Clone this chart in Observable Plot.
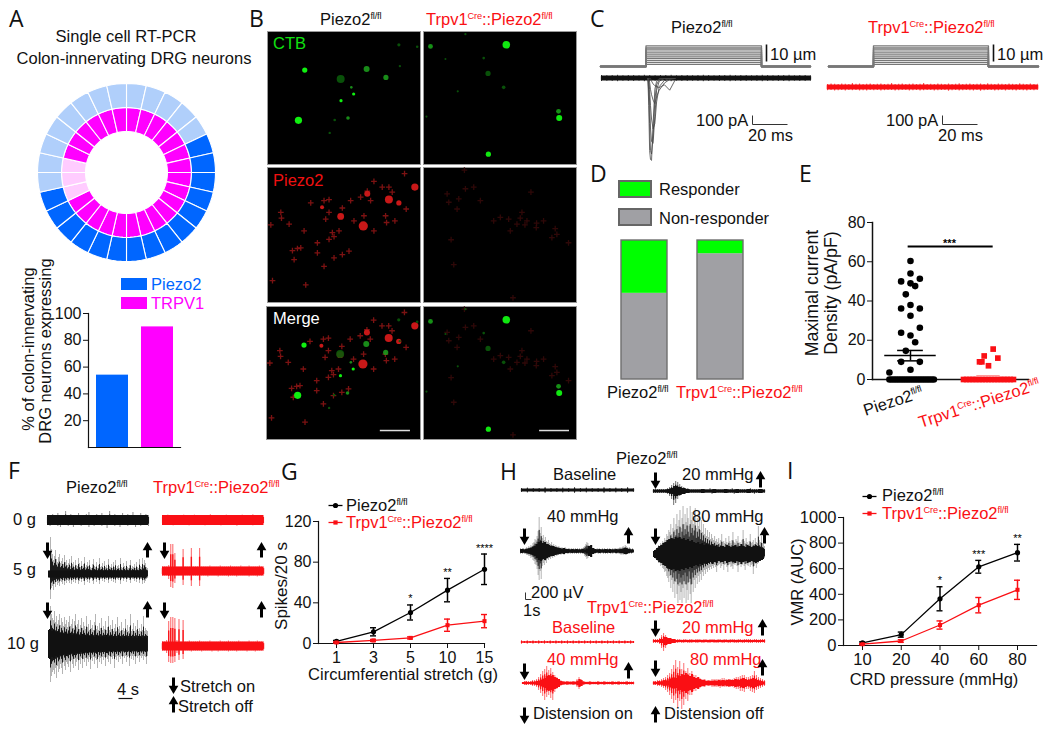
<!DOCTYPE html>
<html><head><meta charset="utf-8">
<script src="https://cdn.jsdelivr.net/npm/d3@7"></script>
<script src="https://cdn.jsdelivr.net/npm/@observablehq/plot@0.6"></script>
<style>
html,body{margin:0;padding:0;background:#fff}
#page{position:relative;width:1050px;height:729px;overflow:hidden;font-family:"Liberation Sans",Arial,sans-serif}
#page svg{position:absolute;overflow:visible}
.t{position:absolute;white-space:nowrap;line-height:1;color:#111}
.t sup{font-size:.56em;vertical-align:baseline;position:relative;top:-.62em;line-height:0;letter-spacing:-.02em}
</style></head><body><div id="page"></div>
<script>
// ---------- Panel A ----------
const outerRing=[0,0,0,0,0,1,1,1,1,1,1,1,1,1,1,1,1,1,1,1,0,0,0,0,0,0,0,0];
const innerRing=[1,1,1,1,1,1,1,1,1,1,1,1,1,1,1,1,1,1,1,0,0,0,1,1,1,1,1,1];
const aGenes=["Piezo2","TRPV1"];
const aPercent=[54,90];
// ---------- Panel B (positions in the micrograph) ----------
const ctbLeftBright=[[112,116,2.6],[93,267,3.6],[259,188,1.6],[221,208,1.6]];
const ctbLeftMid=[[298,113,3],[356,138,2.6],[252,168,1.3],[242,260,1.8]];
const ctbLeftDim=[[220,143,4],[202,266,1.3],[187,305,1.2],[395,40,1.6],[450,46,1.3],[398,104,1.2]];
const ctbRightBright=[[249,40,3.8],[195,369,2.6],[408,260,3]];
const ctbRightMid=[[21,45,2.4],[406,240,2.4]];
const ctbRightDim=[[194,126,2.6],[241,168,1.8],[181,80,1.3],[103,180,1.1],[9,256,1.1],[126,8,1.1],[66,83,1]];
const redLeftBig=[[288,173,4.6],[220,145,3.4],[365,95,4],[395,105,2.6],[443,58,3.6],[300,78,3],[164,118,2]];
const redLeftSmall=[[320,41],[345,58],[365,58],[412,18],[185,95],[170,98],[130,105],[225,120],[185,133],[175,153],[40,133],[42,150],[10,170],[65,168],[110,188],[260,158],[290,143],[320,188],[355,143],[358,163],[383,158],[417,123],[280,88],[250,98],[195,193],[185,213],[150,223],[100,238],[75,246],[150,253],[200,268],[245,248],[225,258],[170,293],[80,273],[15,335],[115,348],[375,73],[310,98],[215,188],[200,205],[300,70],[90,240]];
const redRightDim=[[123,8],[71,78],[76,103],[106,93],[126,63],[151,58],[171,98],[101,123],[83,214],[323,73],[296,133],[311,158],[281,168],[256,153],[231,148],[361,158],[396,181],[386,208],[339,178],[269,386],[261,188],[211,158],[436,223],[91,288],[401,198],[291,150],[305,170],[340,165]];
// ---------- Panel C ----------
const stepLevels=[1.2,2.4,3.5,4.7,5.9,7,8.2,9.4,10.5,11.7];
const stepLeftTimes=[0,26,26,92,92,120];
const stepRightTimes=[0,25.7,25.7,91.4,91.4,120];
const cTimes=[26.5,27,27.5,28,28.6,29.5,30.5,31.5,33,36,39,42];
const cTrace1=[0,-300,-800,-900,-910,-500,-120,-30,0,0,0,0];
const cTrace2=[0,-150,-500,-800,-840,-640,-240,-70,-10,0,0,0];
const cTrace3=[0,-60,-250,-550,-700,-720,-420,-130,-30,0,0,0];
const cTrace4=[0,-20,-120,-300,-450,-560,-500,-260,-90,-20,0,0];
const cTrace5=[0,0,-40,-120,-180,-240,-280,-200,-130,-50,-10,0];
const cTrace6=[0,0,0,0,-30,-60,-80,-90,-100,-70,-130,-20];
const cBandUp=[3,2.8,3,3.2,2.8,3,3,2.7,3.2,3,2.8,3,3,3.2,2.7,3,3,2.8,3,3.2,3,2.7,3,3,3.2,2.8,3,3,2.7,3,3.2,3,2.8,3,3,3.2,2.7,3,3,2.8];
const cBandRedUp=[3,3.5,3.2,3,3.5,3.2,3,4,3.2,3.5,3,3.2,3.5,3,3.2,3.5,3,3.2,4,3,3.2,3.5,3,3.2,3.5,3,3.2,4,3,3.2,3,3.5,3.2,3,3.5,3,3.2,3.8,3,3.2,3.5,3,3.2,3.5,3,3.8,3.2,3,3.5,3.2,3,3.5,3.2,3,3.8,3.2,3,3.5,3,3.2];
const cBandRedDown=[3.2,3,3.5,3.2,3,3.5,3,3.2,3,3.5,3.2,3.5,3,3.2,3,3.5,3.2,3,3,3.5,3.2,3,3,3.5,3.2,3,3.5,3.2,3,3,3.5,3.2,3,3,3.8,3.2,3,3.5,3.2,3,3.2,3.5,3,3.8,3.2,3,3,3.5,3.2,3,3.5,3,3.2,3.5,3,3.2,3.5,3,3.2,3];
// ---------- Panel D ----------
const dGenotypes=["Piezo2","Trpv1Cre::Piezo2"];
const dResponder=[38,9.5];
const dNonResponder=[62,90.5];
// ---------- Panel E ----------
const eCtrlOffset=[0,0,-.12,.12,0,.06,-.06,-.12,0,.12,0,.12,-.12,0,.06,-.06,-.12,.12,0,-.27];
const eCtrlValue=[60.4,54,50,51.3,49,47.6,43.4,36.2,38,36.2,32.5,26.4,23.8,22.4,19,14.6,9,9,5,3.6];
const eCtrlZero=[-.27,-.24,-.21,-.18,-.15,-.12,-.09,-.06,-.03,0,.03,.06,.09,.12,.15,.18,.21,.24,.27,.3];
const eCkoOffset=[.06,-.055,-.115,-.085,.12,0];
const eCkoValue=[15.5,12,9,9,10.9,7];
const eCkoZero=[-.32,-.28,-.24,-.2,-.16,-.12,-.08,-.04,0,.04,.08,.12,.16,.2,.24,.28,.32];
// ---------- Panel G ----------
const gStretch=[1,3,5,10,15];
const gCtrl=[2,11.5,30.5,52.5,73];
const gCtrlErr=[1,4,7.4,11.5,15];
const gCko=[1,3,5.5,18,22];
const gCkoErr=[.6,1,1,6,6.5];
const gStars=["","","*","**","****"];
// ---------- Panel I ----------
const iPressure=[10,20,40,60,80];
const iCtrl=[20,85,365,615,725];
const iCtrlErr=[8,20,94,50,65];
const iCko=[10,35,160,315,435];
const iCkoErr=[4,10,32,60,75];
const iStars=["","","*","***","**"];
// ---------- Traces F (envelopes) ----------
const f0bUp=[5,5,6,5,7,5,5,9,5,6,5,5,7,5,5,6,8,5,5,6,5,7,5,5,9,5,6,5,5,7,5,6,5,8,5,5,7,5,6,5];
const f0bDown=[5,6,5,5,6,7,5,5,6,5,7,5,5,6,5,5,7,5,6,5,5,6,5,8,5,5,6,5,7,5,5,6,5,5,7,5,6,5,5,6];
const f0rUp=[5,5.5,5,5,5.5,5,5.5,5,5,6,5,5,5.5,5,5,5.5,5,6,5,5];
const f0rDown=[5,5,5.5,5,5,5.5,5,5,5.5,5,5,5.5,5,5,6,5,5,5.5,5,5];
const f5bUp=[3,4,37,25,20,14,18,24,15,12,17,20,11,13,16,10,19,12,14,9,11,15,8,18,10,12,7,14,9,8,16,11,7,13,8,10,17,7,9,12,8,14,7,6,10,15,8,7,12,6,9,16,7,8,11,6,13,7,9,6,15,8,7,10,6,12,7,14,6,8,9,6,16,7,6,11,8,6,13,7,6,9,14,6,8,7,10,6,12,7,6,15,8,7,16,9,14,11,7,6];
const f5bDown=[3,4,25,14,12,16,10,13,8,11,9,12,7,8,10,6,11,7,9,6,7,9,5,10,6,8,5,9,6,5,10,7,5,8,5,7,11,5,6,8,5,9,5,4,7,10,5,5,8,4,6,10,5,5,7,4,8,5,6,4,9,5,5,7,4,8,5,9,4,5,6,4,10,5,4,7,5,4,8,5,4,6,9,4,5,5,7,4,8,5,4,9,5,5,10,6,9,7,5,4];
const f5rUp=[4.6,4.6,4.6,6,27,27,18,4.6,4.6,4.6,22,4.6,4.6,4.6,23,4.6,4.6,4.6,23,4.6,4.6,4.6,4.6,5.5,4.6,4.6,4.6,4.6,5.5,4.6,4.6,4.6,4.6,5.5,4.6,4.6,4.6,4.6,5.5,4.6,4.6,4.6,5.5,4.6,4.6,4.6,4.6,5.5,4.6,4.6];
const f5rDown=[4.6,4.6,4.6,8,16,17,12,4.6,4.6,4.6,14,4.6,4.6,4.6,15,4.6,4.6,4.6,15,4.6,4.6,4.6,5.5,4.6,4.6,4.6,4.6,5.5,4.6,4.6,4.6,4.6,5.5,4.6,4.6,4.6,5.5,4.6,4.6,4.6,4.6,4.6,5.5,4.6,4.6,4.6,5.5,4.6,4.6,4.6];
const f10bUp=[8,12,38,30,26,24,33,22,28,20,24,30,19,26,22,18,27,20,24,17,22,28,18,20,25,16,23,30,17,20,24,15,19,26,16,22,18,15,28,17,20,14,24,16,19,14,22,30,15,18,14,21,16,26,14,18,15,23,14,17,28,14,19,15,24,13,16,20,13,27,15,18,13,22,14,16,13,25,14,19,13,17,30,13,15,21,13,18,14,24,13,16,13,20,14,28,13,16,14,13];
const f10bDown=[8,12,38,32,28,26,30,24,34,22,28,25,20,24,30,18,22,26,18,20,23,17,28,16,20,24,15,22,18,15,26,16,20,14,24,15,18,14,22,15,18,13,25,14,17,13,20,14,16,24,13,18,14,20,13,16,13,22,13,15,18,12,20,13,15,12,24,13,16,12,18,13,15,12,20,12,14,12,18,13,12,22,12,15,12,16,12,20,12,14,12,18,12,14,12,16,12,13,20,12];
const f10bCore=[14,15,13,14,12,13,11,12,10,12,10,11,9,11,9,10,8,10,9,8,9,8,9,7,9,8,7,8,7,9,7,8,7,8,6,8,7,6,8,7,6,8,6,7,6,8,7,6,7,6];
const f10rUp=[4.6,4.6,6,25,29,29,28,6,27,4.6,26,4.6,4.6,5.5,4.6,4.6,4.6,4.6,5.5,4.6,4.6,4.6,4.6,5.5,4.6,4.6,4.6,4.6,5.5,4.6,4.6,4.6,5.5,4.6,4.6,4.6,4.6,5.5,4.6,4.6,4.6,4.6,5.5,4.6,4.6,4.6,5.5,4.6,4.6,4.6];
const f10rDown=[4.6,4.6,7,16,17,17,16,7,14,4.6,13,4.6,4.6,4.6,5.5,4.6,4.6,4.6,4.6,5.5,4.6,4.6,4.6,4.6,5.5,4.6,4.6,5.5,4.6,4.6,4.6,4.6,5.5,4.6,4.6,4.6,5.5,4.6,4.6,4.6,4.6,5.5,4.6,4.6,4.6,5.5,4.6,4.6,4.6,4.6];
// ---------- Traces H ----------
const hBaseUp=[2,2.5,2,2,3,2,2,2.5,2,3,2,2.5,2,2,3,2,2.5,2,3,2];
const h20bUp=[2,2,2,2,2,2,2,3,4,6,8,10,9,7,5,4,3,3,2,2,2,2,2,2,2,2,2,2,3,2,2,2,2,2,2,2,2,2,2,3,2,2,2,2,2,2,2,2,3,2,2,2,2,2,2,2];
const h20bDown=[2,2,2,2,2,2,2,3,5,8,14,12,8,5,3,3,2,2,2,2,2,2,2,2,2,2,2,2,2,3,2,2,2,2,2,2,2,2,2,2,3,2,2,2,2,2,2,2,2,2,3,2,2,2,2,2];
const h20bCore=[1.5,1.5,1.5,1.5,2,3,5,4,3,2,1.5,1.5,1.5,2,1.5,1.5,2,1.5,1.5,2,1.5,1.5,2,1.5,1.5,2,1.5,1.5,2,1.5];
const h40bUp=[3,2,3,3,2,3,4,3,5,4,6,5,8,9,12,11,15,20,34,18,24,13,16,11,14,10,9,11,8,7,9,6,7,5,6,5,4,5,4,3,4,3,3,4,3,2,3,3,2,3,2,3,2,3,2,3,2,3,2,3,3,4,5,7,9,8,6,4,3,3,2,3,2,2,3,2,3,2,2,3,2,3,2,2,3,2,3,2,2,3,2,3,3,2,3,3,4,3,4,5,4,6,5,4,3,4,3,2,3,2];
const h40bDown=[3,2,3,2,3,3,4,4,5,5,7,6,9,10,13,14,18,24,29,20,28,15,12,14,10,12,8,9,7,8,6,7,5,6,4,5,4,4,3,4,3,3,4,3,2,3,3,2,3,2,3,2,3,2,3,2,3,2,3,2,3,3,5,6,8,7,5,4,3,2,3,2,3,2,2,3,2,3,2,2,3,2,3,2,3,2,2,3,2,3,2,2,3,3,2,3,3,4,3,4,3,4,4,3,3,3,2,3,2,2];
const h40bCore=[1.5,2,1.5,2,2.5,3,4,5,7,9,10,8,9,7,6,5,5,4,3.5,3,2.5,3,2,2,1.5,2,1.5,2,1.5,1.5,2,1.5,2.5,5,6,3,2,1.5,2,1.5,1.5,2,1.5,2,1.5,1.5,2,1.5,2,2,3,3,2,1.5,1.5];
const h80bUp=[3,4,5,6,7,9,8,11,10,13,12,16,14,20,18,24,22,30,20,26,36,24,30,40,28,34,44,26,36,48,30,40,32,46,36,28,48,34,42,30,38,46,26,36,28,40,24,34,22,30,20,26,18,24,17,22,15,20,16,14,18,13,15,12,16,11,14,20,12,13,11,16,12,10,18,13,11,14,22,12,11,15,13,18,11,12,10,14,24,13,11,16,12,10,13,20,11,12,14,10,16,12,11,28,14,12,18,11,10,8];
const h80bDown=[3,4,5,6,7,9,9,12,11,14,15,18,17,22,24,28,22,34,26,38,30,44,28,40,49,32,46,38,49,34,44,30,49,36,46,28,40,49,30,38,26,34,24,30,22,28,20,26,18,22,16,20,15,18,14,16,13,15,12,14,11,13,18,12,11,10,14,12,10,16,11,10,13,18,11,10,13,12,15,10,11,9,12,18,11,10,13,11,9,12,16,10,11,12,9,13,11,10,20,12,10,14,10,9,7,6,5,5,4,4];
const h80bCore=[3,4,6,8,9,11,12,14,15,16,15,17,16,17,15,16,14,15,13,14,12,11,12,10,11,9,10,9,8,10,8,9,7,8,8,7,9,8,7,8,9,7,8,10,8,7,9,8,7,8,9,8,7,6,5];
const hRedBaseUp=[1.6,1,1.6,1,1.6,1,1.6,1,1.6,1,1.6,1,1.6,1,1.6,1,1.6,1,1.6,1,1.6,1,1.6,1,1.6,1,1.6,1,1.6,1,1.6,1,1.6,1,1.6,1,1.6,1,1.6,1];
const h20rUp=[2,2,2,3,6,8,6,3,2,2,2,1.5,2,2,1.5,2,2,1.5,2,2,1.5,2,2,2,1.5,2,2,1.5,2,2,2,1.5,2,2,1.5,2,2,1.5,2,2,2,1.5,2,2,1.5,2,2,2,2,1.5,2,2,1.5,2,2,2];
const h20rDown=[2,2,2,3,7,10,7,3,2,2,1.5,2,2,1.5,2,2,1.5,2,2,2,1.5,2,2,1.5,2,2,1.5,2,2,1.5,2,2,2,1.5,2,2,1.5,2,2,1.5,2,2,2,1.5,2,2,1.5,2,2,2,1.5,2,2,2,1.5,2];
const h20rCore=[1,1,2,4,3,2,1,1,1,1,1,1,1,1,1,1,1,1,1,1,1,1,1,1,1,1,1,1];
const h40rUp=[1,2,2,2,2,3,3,4,6,9,12,14,17,13,15,11,8,6,4,3,2,2,2,2,2,2,2,4,6,4,2,1.5,1.5,1.5,1.5,1.5,1.5,1.5,1.5,1.5,1.5,1.5,1.5,1.5,1.5,1.5,1.5,1.5,1.5,1.5,1.5,1.5,1.5,1.5,1.5,1.5];
const h40rDown=[1,2,2,2,2,3,3,4,7,10,13,17,14,12,15,17,9,6,4,3,2,2,2,2,2,2,2,4,6,3,2,1.5,1.5,1.5,1.5,1.5,1.5,1.5,1.5,1.5,1.5,1.5,1.5,1.5,1.5,1.5,1.5,1.5,1.5,1.5,1.5,1.5,1.5,1.5,1.5,1.5];
const h40rCore=[1,1,1.5,1,1,1.5,1,2,2,3,4,5,7,8,7,8,6,5,4,2,1.5,1,1.5,1,1,1.5,1,2,4,3,1.5,1,1,1.5,1,1,1,1.5,1,1,1.5,1,1,1,1.5,1,1,1.5,1,1,1,1.5,1,1,1];
const h80rUp=[2,2,3,3,4,5,6,8,10,14,18,23,16,22,14,20,12,15,10,12,8,8,6,5,4,3,3,3,3,4,4,4,4,4,5,5,4,4,4,4,5,6,6,7,8,8,6,6,7,8,12,8,6,5,4,3];
const h80rDown=[2,2,3,3,4,5,7,9,12,16,20,17,24,18,26,22,16,18,12,12,8,8,6,5,4,3,3,3,3,4,4,4,4,5,4,4,4,4,4,4,5,6,6,8,8,9,6,6,8,9,10,7,6,5,4,3];
const h80rCore=[1,1.5,1,2,1.5,2.5,3,2.5,4,5,6,5,8,7,9,8,10,8,7,9,6,5,6,4,3,3.5,2,2.5,2,2,2.5,2,3,2.5,3,2.5,3,3.5,3,3,4,3.5,3,4,5,4,3,3.5,4,5,4,3,2.5,2,1.5];

// ---------- helpers ----------
const page=document.getElementById("page");
const FONT='"Liberation Sans",Arial,sans-serif';
const RED="#fa0f14";
const PIEZO='Piezo2<sup>fl/fl</sup>';
const CKO='Trpv1<sup>Cre</sup>::Piezo2<sup>fl/fl</sup>';
function place(node,x,y){node.style.left=x+"px";node.style.top=y+"px";page.appendChild(node);return node;}
function label(html,x,y,o={}){
  const d=document.createElement("div");d.className="t";d.innerHTML=html;
  d.style.fontSize=(o.size||16.5)+"px";d.style.color=o.color||"#111";
  const ax=o.align==="center"?"-50%":o.align==="right"?"-100%":"0";
  d.style.transform=`translate(${ax},-50%)`+(o.rotate?` rotate(${o.rotate}deg)`:"");
  if(o.font)d.style.fontFamily=o.font;
  place(d,x,y);return d;
}
const base={style:{background:"transparent",fontFamily:FONT,fontSize:"16px",color:"#111"},marginLeft:0,marginRight:0,marginTop:0,marginBottom:0};
function trace(x0,x1,cy,h,color,up,down,core,sw=0.7,op=.45){
  const n=up.length,width=x1-x0;
  const t=(i,N)=>i/(N-1);
  const marks=[
    Plot.ruleX(up,{x:(d,i)=>t(i,n),y1:(d,i)=>-down[i],y2:d=>d,stroke:color,strokeWidth:sw,strokeOpacity:op}),
    Plot.ruleX(up,{x:(d,i)=>t(i,n),y1:(d,i)=>-down[i]*.62,y2:d=>d*.62,stroke:color,strokeWidth:sw+.3,strokeOpacity:.95}),
    Plot.areaY(core,{x:(d,i)=>t(i,core.length),y1:d=>-d,y2:d=>d,fill:color,curve:"step"})
  ];
  place(Plot.plot({...base,width,height:h,x:{domain:[0,1],range:[0,width],axis:null},y:{domain:[-h/2,h/2],range:[h,0],axis:null},marks}),x0,cy-h/2);
}

// ---------- A ----------
{
  const R=[[.46,.73,innerRing,"#ff00ff","#ffccff"],[.73,1,outerRing,"#0066ff","#b0cffb"]];
  const pts=[];const n=outerRing.length;
  R.forEach(([r0,r1,ring,on,off],k)=>ring.forEach((v,i)=>{
    const c=v?on:off,id=k+"-"+i,a0=2*Math.PI*i/n,a1=2*Math.PI*(i+1)/n;
    const arc=[];for(let s=0;s<=4;s++)arc.push(a0+(a1-a0)*s/4);
    arc.forEach(a=>pts.push({id,c,x:r1*Math.sin(a),y:r1*Math.cos(a)}));
    arc.slice().reverse().forEach(a=>pts.push({id,c,x:r0*Math.sin(a),y:r0*Math.cos(a)}));
    pts.push({id,c,x:r1*Math.sin(a0),y:r1*Math.cos(a0)});
  }));
  place(Plot.plot({...base,width:178,height:178,x:{domain:[-1,1],axis:null},y:{domain:[-1,1],axis:null},
    marks:[Plot.line(pts,{x:"x",y:"y",z:"id",fill:"c",stroke:"white",strokeWidth:1.1,curve:"linear"})]}),37,83);
  const rows=aGenes.map((g,i)=>({g,v:aPercent[i]}));
  place(Plot.plot({...base,width:132,height:154,marginLeft:40,marginTop:10,marginBottom:10,
    x:{domain:aGenes,range:[48,125],paddingInner:.29,paddingOuter:0,axis:null},
    y:{domain:[0,100]},
    marks:[Plot.barY(rows,{x:"g",y:"v",fill:d=>d.g==="Piezo2"?"#0066ff":"#ff00ff"}),
      Plot.axisY({ticks:[20,40,60,80,100],tickSize:5,tickPadding:2,label:null,stroke:"#111",color:"#111"}),
      Plot.frame({anchor:"left",stroke:"#111",strokeWidth:1.2}),Plot.frame({anchor:"bottom",stroke:"#111",strokeWidth:1.2})]}),48,303);
}
label("Single cell RT-PCR",126,36,{align:"center"});
label("Colon-innervating DRG neurons",134,58,{align:"center"});
label("% of colon-innervating",28,349,{align:"center",rotate:-90});
label("DRG neurons expressing",45,351,{align:"center",rotate:-90});
label("Piezo2",151,284,{color:"#0066ff"});
label("TRPV1",151,303,{color:"#ff00ff"});

// ---------- B ----------
function micro(x,y,w,h,layers,bar){
  const marks=[Plot.frame({fill:"#000",stroke:"#9a9a9a",strokeWidth:1})];
  layers.forEach(([arr,color,op,cross])=>marks.push(cross
    ?Plot.dot(arr,{x:d=>d[0],y:d=>d[1],r:2,symbol:"plus",stroke:color,strokeOpacity:op,strokeWidth:1.3})
    :Plot.dot(arr,{x:d=>d[0],y:d=>d[1],r:d=>d[2],fill:color,fillOpacity:op,stroke:"none"})));
  if(bar)marks.push(Plot.ruleY([373],{x1:bar[0],x2:bar[1],stroke:"#ddd",strokeWidth:1.5}));
  place(Plot.plot({...base,width:w,height:h,r:{type:"identity"},x:{domain:[0,460],range:[0,w],axis:null},y:{domain:[0,400],range:[0,h],axis:null},marks}),x,y);
}
const greenL=[[ctbLeftDim,"#0a5a0a",.9],[ctbLeftMid,"#1c9a1c",.9],[ctbLeftBright,"#10f010",1]];
const greenR=[[ctbRightDim,"#0a5a0a",.9],[ctbRightMid,"#18a018",.9],[ctbRightBright,"#10e810",1]];
const redL=[[redLeftSmall,"#8a1414",.9,true],[redLeftBig,"#c81818",1]];
const redR=[[redRightDim,"#340909",.9,true]];
micro(267,31,153,133,greenL);micro(423,31,153,133,greenR);
micro(267,167,153,135,redL);micro(423,167,153,135,redR);
micro(266,306,154,133,[...redL,...greenL],[340,430]);micro(423,306,153,133,[...redR,...greenR],[349,439]);
label("CTB",273,43,{color:"#10e010"});
label("Piezo2",273,180,{color:"#f01010"});
label("Merge",273,318,{color:"#fff"});
label(PIEZO,320,19,{});
label(CKO,426,19,{color:RED});

// ---------- C ----------
function stimulus(x,times){
  const pts=stepLevels.flatMap(L=>times.map((t,i)=>({L,t,y:(i===0||i===1||i===4||i===5)?0:L})));
  place(Plot.plot({...base,width:210,height:24,x:{domain:[0,120],range:[0,210],axis:null},y:{domain:[0,12.5],range:[22,0],axis:null},
    marks:[Plot.line(pts,{x:"t",y:"y",z:"L",stroke:"#777",strokeWidth:1.3})]}),x,44);
}
stimulus(600,stepLeftTimes);stimulus(828,stepRightTimes);
trace(601,810,78,12,"#111",cBandUp,cBandUp,[2.6,2.6],1,.8);
{
  const rows=[cTrace1,cTrace2,cTrace3,cTrace4,cTrace5,cTrace6].flatMap((s,k)=>s.map((v,i)=>({k,t:cTimes[i],v})));
  place(Plot.plot({...base,width:50,height:95,x:{domain:[20,48.6],range:[0,50],axis:null},y:{domain:[89,-967],range:[0,95],axis:null},
    marks:[Plot.line(rows,{x:"t",y:"v",z:"k",stroke:"#444",strokeWidth:.8})]}),636,70);
}
trace(827,1037,87,14,RED,cBandRedUp,cBandRedDown,[2.6,2.6],1.2,.7);
label(PIEZO,671,27);label(CKO,868,27,{color:RED});
label("10 µm",770,54);label("10 µm",997,54);
label("100 pA",696,120);label("20 ms",748,135);label("100 pA",886,120);label("20 ms",938,135);

// ---------- D ----------
{
  const rows=dGenotypes.flatMap((g,i)=>[{g,k:"non",v:dNonResponder[i],fill:"#a0a0a4"},{g,k:"res",v:dResponder[i],fill:"#00ff00"}]);
  place(Plot.plot({...base,width:130,height:139,
    x:{domain:dGenotypes,range:[0,123],paddingInner:.4,paddingOuter:0,axis:null},y:{domain:[0,100],axis:null},
    marks:[Plot.barY(rows,{x:"g",y:"v",fill:"fill",order:null}),
      Plot.barY(dGenotypes,{x:d=>d,y1:0,y2:100,fill:"none",stroke:"#6e6e6e",strokeWidth:1.4})]}),620,240);
}
label("Responder",659,189);label("Non-responder",659,218);
label(PIEZO,607,392);label(CKO,676,392,{color:RED});

// ---------- E ----------
{
  const ctrl=eCtrlOffset.map((o,i)=>({x:1+o,y:eCtrlValue[i]})).concat(eCtrlZero.map(o=>({x:1+o,y:0})));
  const cko=eCkoOffset.map((o,i)=>({x:2+o,y:eCkoValue[i]})).concat(eCkoZero.map(o=>({x:2+o,y:0})));
  place(Plot.plot({...base,width:189,height:174,marginLeft:32,marginRight:1,marginTop:7,marginBottom:10,
    x:{domain:[.513,2.513],axis:null},y:{domain:[0,80]},
    marks:[Plot.axisY({ticks:[0,20,40,60,80],tickSize:5,tickPadding:2,label:null,stroke:"#111",color:"#111"}),
      Plot.frame({anchor:"left",stroke:"#111",strokeWidth:1.5}),Plot.frame({anchor:"bottom",stroke:"#111",strokeWidth:1.5}),
      Plot.dot(ctrl,{x:"x",y:"y",r:3.3,fill:"#000"}),
      Plot.dot(cko,{x:"x",y:"y",r:3.2,symbol:"square",fill:RED}),
      Plot.ruleY([12.2],{x1:.67,x2:1.33,stroke:"#000",strokeWidth:1.5}),
      Plot.ruleY([14.8,9.5],{x1:.835,x2:1.165,stroke:"#000",strokeWidth:1.5}),
      Plot.ruleX([1],{y1:9.5,y2:14.8,stroke:"#000",strokeWidth:1.5}),
      Plot.ruleY([1.9],{x1:1.85,x2:2.15,stroke:"#ff9a9a",strokeWidth:1.5}),
      Plot.ruleY([67.8],{x1:.97,x2:2.06,stroke:"#000",strokeWidth:2}),
      Plot.text(["***"],{x:[1.5],y:[69.5],fontSize:11,fontWeight:"bold",fill:"#000"})
    ]}),840,215);
}
label("Maximal current",813,293,{align:"center",rotate:-90,size:17.8});
label("Density (pA/pF)",832,293,{align:"center",rotate:-90,size:17.8});
label(PIEZO,893,401,{align:"center",rotate:-18});
label(CKO,979,403,{align:"center",rotate:-18,color:RED});

// ---------- G & I ----------
function lineChart(o){
  const cap=3/((o.xr[1]-o.xr[0])/(o.xs.length-1));
  const rows=(vals,errs)=>o.xs.map((v,i)=>({i,y:vals[i],lo:vals[i]-errs[i],hi:vals[i]+errs[i],star:o.stars[i]}));
  const series=(d,c,sym,r)=>[
    Plot.line(d,{x:"i",y:"y",stroke:c,strokeWidth:1.3}),
    Plot.ruleX(d,{x:"i",y1:"lo",y2:"hi",stroke:c,strokeWidth:1.5}),
    Plot.ruleY(d,{y:"lo",x1:e=>e.i-cap,x2:e=>e.i+cap,stroke:c,strokeWidth:1.4}),
    Plot.ruleY(d,{y:"hi",x1:e=>e.i-cap,x2:e=>e.i+cap,stroke:c,strokeWidth:1.4}),
    Plot.dot(d,{x:"i",y:"y",r,symbol:sym,fill:c})];
  const ctrl=rows(o.ctrl,o.ctrlErr),cko=rows(o.cko,o.ckoErr);
  place(Plot.plot({...base,style:{...base.style,fontSize:o.fs},width:o.width,height:o.height,marginLeft:o.ml,marginRight:o.mr,marginTop:o.mt,marginBottom:o.mb,
    x:{domain:[0,o.xs.length-1],range:o.xr},y:{domain:o.yd},
    marks:[
      Plot.axisX({ticks:d3.range(o.xs.length),tickSize:5,tickPadding:3,label:null,stroke:"#111",color:"#111",tickFormat:i=>String(o.xs[i])}),
      Plot.axisY({ticks:o.yt,tickSize:5,tickPadding:2,label:null,stroke:"#111",color:"#111",tickFormat:d=>String(d)}),
      Plot.frame({anchor:"left",stroke:"#111",strokeWidth:1.2}),Plot.frame({anchor:"bottom",stroke:"#111",strokeWidth:1.2}),
      ...series(ctrl,"#000","circle",2.6),...series(cko,RED,"square",2.3),
      Plot.text(ctrl,{x:"i",y:"hi",text:"star",dy:-6,fontSize:11,fill:"#000"})
    ]}),o.left,o.top);
}
lineChart({fs:"16px",left:270,top:510,width:216,height:178,ml:48,mr:2,mt:11,mb:45,xs:gStretch,xr:[66,214],yd:[0,120],yt:[0,40,80,120],
  ctrl:gCtrl,ctrlErr:gCtrlErr,cko:gCko,ckoErr:gCkoErr,stars:gStars});
lineChart({fs:"16.5px",left:795,top:507,width:241,height:183,ml:48,mr:0,mt:10,mb:45,xs:iPressure,xr:[67,222],yd:[0,1000],yt:[0,200,400,600,800,1000],
  ctrl:iCtrl,ctrlErr:iCtrlErr,cko:iCko,ckoErr:iCkoErr,stars:iStars});
label("Circumferential stretch (g)",403,674,{align:"center"});
label("Spikes/20 s",281,586,{align:"center",rotate:-90,size:17});
label(PIEZO,346,505);label(CKO,346,522,{color:RED});
label("CRD pressure (mmHg)",934,679,{align:"center"});
label("VMR (AUC)",797,582,{align:"center",rotate:-90});
label(PIEZO,882,495);label(CKO,882,513,{color:RED});

// ---------- F traces ----------
trace(47,148,520,24,"#111",f0bUp,f0bDown,[5,5],.8,.6);
trace(162,263,520,24,RED,f0rUp,f0rDown,[5,5],.8,.6);
trace(48,147,574,80,"#111",f5bUp,f5bDown,[3.5,3.5]);
trace(162,263,571,60,RED,f5rUp,f5rDown,[4.6,4.6],1.1,.6);
trace(48,147,644,80,"#111",f10bUp,f10bDown,f10bCore);
trace(162,263,646,60,RED,f10rUp,f10rDown,[4.6,4.6],1.1,.6);
label(PIEZO,66,487);label(CKO,153,487,{color:RED});
label("0 g",36,519,{align:"right"});label("5 g",36,569,{align:"right"});label("10 g",39,643,{align:"right"});
label("4 s",117,689);
label("Stretch on",180,686);label("Stretch off",178,706);

// ---------- H traces ----------
trace(521,633,490,8,"#111",hBaseUp,hBaseUp,[1.6,1.6],1,.7);
trace(653,764,491,30,"#111",h20bUp,h20bDown,h20bCore,1,.6);
trace(520,633,551,70,"#111",h40bUp,h40bDown,h40bCore);
trace(653,764,554,100,"#111",h80bUp,h80bDown,h80bCore);
trace(521,633,642,6,RED,hRedBaseUp,hRedBaseUp,[.8,.8],1,1);
trace(653,764,641,22,RED,h20rUp,h20rDown,h20rCore,1,.6);
trace(522,633,683,40,RED,h40rUp,h40rDown,h40rCore,1,.6);
trace(653,764,683,54,RED,h80rUp,h80rDown,h80rCore,1,.6);
label(PIEZO,616,458);
label("Baseline",553,474);label("20 mmHg",682,474);
label("40 mmHg",547,516);label("80 mmHg",692,516);
label("200 µV",531,592);label("1s",523,610);
label(CKO,587,607,{color:RED});
label("Baseline",552,627,{color:RED});label("20 mmHg",682,627,{color:RED});
label("40 mmHg",547,659,{color:RED});label("80 mmHg",690,659,{color:RED});
label("Distension on",533,713);label("Distension off",664,713);

// ---------- letters ----------
[["A",9,18],["B",249,18],["C",590,18],["D",590,173],["E",799,173],["F",8,470],["G",281,471],["H",500,471],["I",787,470]]
 .forEach(([s,x,y])=>label(s,x,y,{size:23,font:'"Open Sans","Liberation Sans",sans-serif'}));

// ---------- overlay: arrows, scale bars, legend keys ----------
const arrowDown=[[47,542,557],[164,542,557],[47,602,617],[164,602,617],[173,677,692],[655,472,487],[524,528,543],[655,528,543],[655,620,635],[524,663,678],[655,660,675],[524,707,722]];
const arrowUp=[[147,543,557],[261,543,557],[147,602,617],[261,602,617],[173,697,712],[760,472,487],[628,528,543],[764,528,543],[762,620,635],[628,663,678],[762,660,675],[655,707,722]];
const scaleLines=[
 [766,44,766,61,"#111",1.6],[993,44,993,61,"#111",1.6],
 [752,115,752,124,"#333",1],[752,124,787,124,"#333",1],[942,115,942,124,"#333",1],[942,124,977,124,"#333",1],
 [118,698,132,698,"#111",1.2],
 [525,592,525,599,"#333",1],[525,599,531,599,"#333",1],
 [328,505,342,505,"#000",1.3],[328,522,342,522,RED,1.3],
 [862,496,876,496,"#000",1.3],[862,513,876,513,RED,1.3]
];
const swatches=[[121,278,147,290,"#0066ff","none"],[121,297,147,309,"#ff00ff","none"],[619,181,651,197,"#00ff00","#666"],[619,209,651,225,"#a0a0a4","#666"]];
const shaft=[...arrowDown.map(([x,a,b])=>({x,y1:a,y2:b-5})),...arrowUp.map(([x,a,b])=>({x,y1:a+5,y2:b}))];
place(Plot.plot({...base,width:1050,height:729,x:{domain:[0,1050],range:[0,1050],axis:null},y:{domain:[0,729],range:[0,729],axis:null},
  marks:[
    Plot.rect(swatches,{x1:d=>d[0],y1:d=>d[1],x2:d=>d[2],y2:d=>d[3],fill:d=>d[4],stroke:d=>d[5],strokeWidth:2}),
    Plot.link(scaleLines,{x1:d=>d[0],y1:d=>d[1],x2:d=>d[2],y2:d=>d[3],stroke:d=>d[4],strokeWidth:d=>d[5]}),
    Plot.link(shaft,{x1:"x",x2:"x",y1:"y1",y2:"y2",stroke:"#000",strokeWidth:3}),
    Plot.dot(arrowDown,{x:d=>d[0],y:d=>d[2]-4,symbol:"triangle",r:3.6,fill:"#000",rotate:180}),
    Plot.dot(arrowUp,{x:d=>d[0],y:d=>d[1]+4,symbol:"triangle",r:3.6,fill:"#000"}),
    Plot.dot([[335,505],[869,496]],{x:d=>d[0],y:d=>d[1],r:2.6,fill:"#000"}),
    Plot.dot([[335,522],[869,513]],{x:d=>d[0],y:d=>d[1],r:2.4,symbol:"square",fill:RED})
  ]}),0,0);
</script></body></html>
